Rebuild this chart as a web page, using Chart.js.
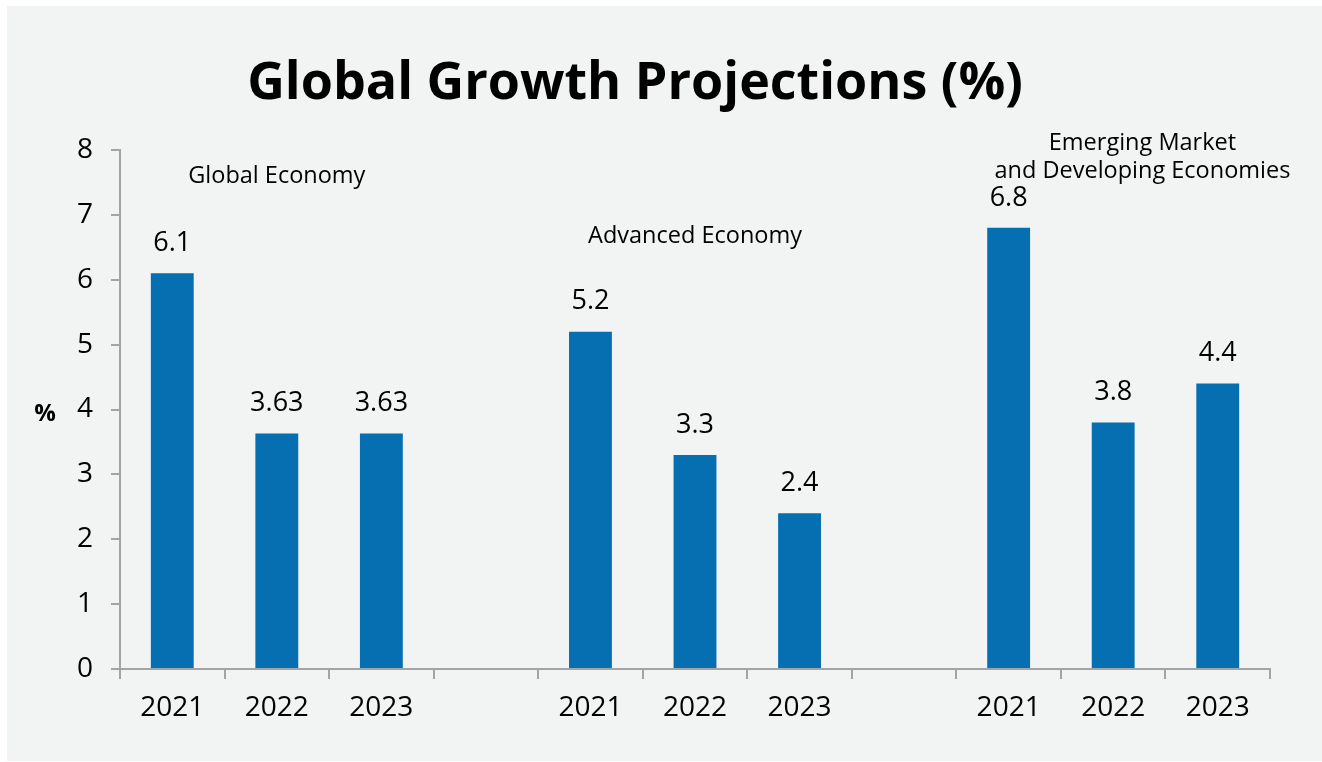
<!DOCTYPE html>
<html>
<head>
<meta charset="utf-8">
<script src="https://cdn.jsdelivr.net/npm/chart.js@4.4.0/dist/chart.umd.min.js"></script>
<style>
  html, body { margin: 0; padding: 0; background: #ffffff; }
  #wrap { width: 1322px; height: 762px; }
</style>
</head>
<body>
<div id="wrap"><canvas id="growthChart"></canvas></div>
<script>
// categories: three groups of years with an empty slot between groups
const years = ['2021', '2022', '2023', '', '2021', '2022', '2023', '', '2021', '2022', '2023'];
const growth = [6.1, 3.63, 3.63, null, 5.2, 3.3, 2.4, null, 6.8, 3.8, 4.4];
const yTicks = [0, 1, 2, 3, 4, 5, 6, 7, 8];
const groupNotes = [
    { lines: ['Global Economy'], at: 1, y: [7.6] },
    { lines: ['Advanced Economy'], at: 5, y: [6.67] },
    { lines: ['Emerging Market', 'and Developing Economies'], at: 9.28, y: [8.1, 7.67] }
];

const axisGray = '#a3a4a6';
const barBlue = '#066fb2';

const decorations = {
    id: 'decorations',
    beforeDraw(chart) {
        const c = chart.ctx;
        c.save();
        c.fillStyle = '#ffffff';
        c.fillRect(0, 0, chart.width, chart.height);
        c.fillStyle = '#f2f3f3';
        c.fillRect(7, 6, chart.width - 7, chart.height - 7);
        c.restore();
    },
    afterDatasetsDraw(chart) {
        const c = chart.ctx;
        const x = chart.scales.x;
        const y = chart.scales.y;
        c.save();
        c.fillStyle = '#000000';
        c.textAlign = 'center';
        c.textBaseline = 'middle';

        // value labels above each bar
        c.font = '27px "Open Sans"';
        chart.getDatasetMeta(0).data.forEach((bar, i) => {
            if (growth[i] === null) return;
            c.fillText(String(growth[i]), bar.x, bar.y - 30);
        });

        // group notes
        c.font = '23.5px "Open Sans"';
        groupNotes.forEach(n => {
            const cx = x.left + (n.at + 0.5) * (x.width / years.length);
            n.lines.forEach((line, k) => c.fillText(line, cx, y.getPixelForValue(n.y[k])));
        });

        // title
        c.font = 'bold 52px "Open Sans"';
        c.fillText('Global Growth Projections (%)', 635, 84);

        // unit label
        c.font = 'bold 24px "Open Sans"';
        c.fillText('%', 45, 414);
        c.restore();
    }
};

new Chart(document.getElementById('growthChart'), {
    type: 'bar',
    data: {
        labels: years,
        datasets: [{
            data: growth,
            backgroundColor: barBlue,
            borderWidth: 0,
            categoryPercentage: 1,
            barPercentage: 0.41
        }]
    },
    options: {
        responsive: true,
        maintainAspectRatio: false,
        animation: false,
        layout: { padding: { left: 0, top: 150, right: 52, bottom: 0 } },
        plugins: {
            legend: { display: false },
            tooltip: { enabled: false }
        },
        scales: {
            x: {
                afterFit: s => { s.height = 93; },
                grid: { offset: true, drawOnChartArea: false, color: axisGray, lineWidth: 2, tickLength: 10 },
                border: { color: axisGray, width: 2 },
                ticks: { color: '#000000', font: { family: 'Open Sans', size: 28 }, padding: 12, maxRotation: 0 }
            },
            y: {
                min: 0,
                max: 8,
                afterFit: s => { s.width = 120; },
                afterBuildTicks: s => { s.ticks = yTicks.map(v => ({ value: v })); },
                grid: { drawOnChartArea: false, color: axisGray, lineWidth: 2, tickLength: 9 },
                border: { color: axisGray, width: 2 },
                ticks: { color: '#000000', font: { family: 'Open Sans', size: 28 }, padding: 18 }
            }
        }
    },
    plugins: [decorations]
});
</script>
</body>
</html>
